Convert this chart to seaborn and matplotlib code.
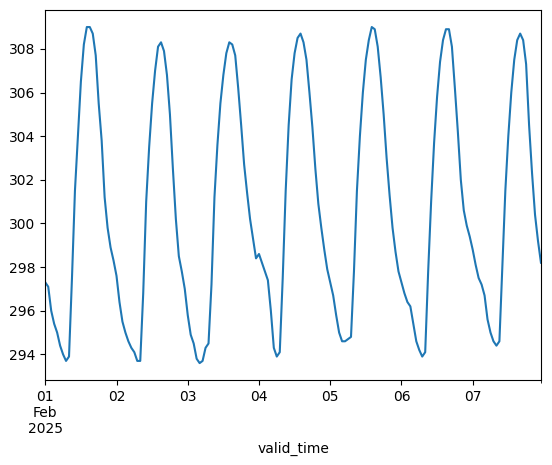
import numpy as np
import pandas as pd
import seaborn as sns
import matplotlib.pyplot as plt

# Valores horários de temperatura (K), 1 a 7 de fevereiro de 2025
day1 = [297.3, 297.1, 296.0, 295.4, 295.0, 294.4, 294.0, 293.7, 293.9, 297.5, 301.5, 304.0,
        306.5, 308.2, 309.0, 309.0, 308.7, 307.7, 305.5, 303.8, 301.2, 299.8, 298.9, 298.3]
day2 = [297.6, 296.4, 295.5, 295.0, 294.6, 294.3, 294.1, 293.7, 293.7, 296.8, 301.0, 303.5,
        305.5, 307.0, 308.1, 308.3, 307.9, 306.8, 305.0, 302.5, 300.2, 298.5, 297.8, 297.0]
day3 = [295.8, 294.9, 294.5, 293.8, 293.6, 293.7, 294.3, 294.5, 297.2, 301.2, 303.6, 305.5,
        306.8, 307.8, 308.3, 308.2, 307.7, 306.2, 304.5, 302.7, 301.4, 300.2, 299.3, 298.4]
day4 = [298.6, 298.2, 297.8, 297.4, 296.0, 294.3, 293.9, 294.1, 297.5, 301.5, 304.5, 306.6,
        307.8, 308.5, 308.7, 308.3, 307.5, 306.0, 304.4, 302.5, 300.9, 299.8, 298.8, 297.9]
day5 = [297.3, 296.7, 295.8, 295.0, 294.6, 294.6, 294.7, 294.8, 297.8, 301.5, 304.0, 306.0,
        307.5, 308.4, 309.0, 308.9, 308.1, 306.7, 305.0, 303.0, 301.3, 299.8, 298.7, 297.8]
day6 = [297.3, 296.8, 296.4, 296.2, 295.4, 294.6, 294.2, 293.9, 294.1, 297.8, 301.0, 303.7,
        305.8, 307.4, 308.4, 308.9, 308.9, 308.1, 306.2, 304.2, 302.0, 300.6, 299.9, 299.4]
day7 = [298.8, 298.1, 297.5, 297.2, 296.7, 295.6, 295.0, 294.6, 294.4, 294.6, 298.0, 301.5,
        304.0, 306.0, 307.5, 308.4, 308.7, 308.4, 307.3, 304.5, 302.3, 300.4, 299.2, 298.2]

values = day1 + day2 + day3 + day4 + day5 + day6 + day7
times = pd.date_range('2025-02-01 00:00', periods=len(values), freq='h')
df = pd.DataFrame({'valid_time': times, 't2m': values})

fig, ax = plt.subplots(figsize=(5.52, 4.65), dpi=100)
sns.lineplot(data=df, x='valid_time', y='t2m', ax=ax, color='#1f77b4')

ax.set_xlim(times[0], times[-1])
ticks = pd.date_range('2025-02-01', '2025-02-07', freq='D')
labels = ['01\nFeb\n2025'] + [t.strftime('%d') for t in ticks[1:]]
ax.set_xticks(ticks)
ax.set_xticklabels(labels)
ax.set_xticks([times[-1]], minor=True)
ax.set_ylabel('')
ax.set_xlabel('valid_time')

fig.subplots_adjust(left=0.082, right=0.98, top=0.978, bottom=0.183)
plt.savefig('out.png')
plt.close()
